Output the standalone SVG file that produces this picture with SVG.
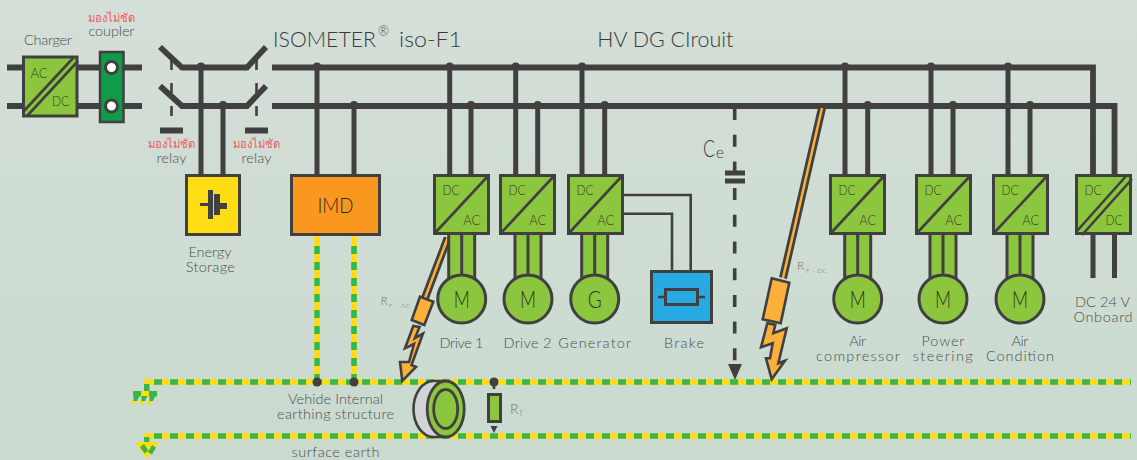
<svg xmlns="http://www.w3.org/2000/svg" width="1137" height="460" viewBox="0 0 1137 460">
<style>
text{font-family:"Lato","Noto Sans","DejaVu Sans",sans-serif;font-weight:300;fill:#4c4d4f;font-size:14.5px;text-anchor:middle}
.th{fill:#ef5a60;font-size:12px;font-family:"Noto Sans","DejaVu Sans",sans-serif;font-weight:400}
.t{fill:#34421a;font-size:14px}
.m{fill:#2c3618;font-size:24px}
.big{fill:#3a3a3c;font-size:22px;text-anchor:start}
.sm{fill:#6d6e71;text-anchor:start}
.bus{fill:none;stroke:#404041;stroke-width:5.8}
.v{fill:none;stroke:#404041;stroke-width:5}
.thin{fill:none;stroke:#404041;stroke-width:2.6}
.box{fill:#8cc63f;stroke:#404041;stroke-width:3}
.dot{fill:#404041}
.eY{fill:none;stroke:#ffdd15;stroke-width:5.5}
.eG{fill:none;stroke:#39b54a;stroke-width:5.5;stroke-dasharray:8 8}
.or{fill:#fbb03b;stroke:#404041;stroke-width:2.6}
</style>
<defs>
<linearGradient id="bg" x1="0" y1="0" x2="0" y2="1"><stop offset="0" stop-color="#d4dfd7"/><stop offset="1" stop-color="#cadacf"/></linearGradient>
<g id="conv">
<rect class="box" x="1.500" y="1.500" width="54" height="58"/>
<path class="thin" d="M2 59 55 2"/>
<text class="t" x="18" y="21" textLength="17" lengthAdjust="spacingAndGlyphs">DC</text>
<text class="t" x="38.700" y="51" textLength="17" lengthAdjust="spacingAndGlyphs">AC</text>
</g>
<g id="link">
<rect x="-13" y="0" width="26" height="46" fill="#8cc63f"/>
<path class="thin" d="M-13 0V46M0 0V46M13 0V46" style="stroke-width:3"/>
</g>
</defs>
<rect width="1137" height="460" fill="url(#bg)"/>

<g id="connectors">
<path class="bus" d="M7 67.500H23M7 106H23M78 67.500H142M78 106H142"/>
<path class="bus" d="M160 47 182 67.500H247L266 47M160 86 182 106H247L266 86"/>
<path class="thin" d="M171.500 60V128M256.500 60V128" stroke-dasharray="10 13"/>
<path class="bus" d="M160 130.500H183M245 130.500H268"/>
<path class="bus" d="M272 67.500H1093V175M272 106H1114.500V175"/>
<path class="v" d="M201 66V175M223 104V175M317 66V175M354 104V175M449.700 66V175M471 104V175M515.700 66V175M537.700 104V175M582 66V175M604.700 104V175M845 66V175M867.700 104V175M931 66V175M953 104V175M1008 66V175M1030 104V175"/>
<g class="dot">
<circle cx="201" cy="66.500" r="4"/><circle cx="223" cy="105" r="4"/><circle cx="317" cy="66.500" r="4"/><circle cx="354" cy="105" r="4"/>
<circle cx="449.700" cy="66.500" r="4"/><circle cx="471" cy="105" r="4"/><circle cx="515.700" cy="66.500" r="4"/><circle cx="537.700" cy="105" r="4"/>
<circle cx="582" cy="66.500" r="4"/><circle cx="604.700" cy="105" r="4"/><circle cx="845" cy="66.500" r="4"/><circle cx="867.700" cy="105" r="4"/>
<circle cx="931" cy="66.500" r="4"/><circle cx="953" cy="105" r="4"/><circle cx="1008" cy="66.500" r="4"/><circle cx="1030" cy="105" r="4"/>
</g>
<path class="v" d="M1093 235V278M1114.500 235V278"/>
<path class="thin" d="M624 195H690.700V270M624 213.700H672V270"/>
<path d="M734.700 108V368" fill="none" stroke="#404041" stroke-width="3.600" stroke-dasharray="12 14.700"/>
<path class="dot" d="M725 170.500h20v5h-20zM725 178.500h20v5h-20zM728 364h14l-7 16z"/>
<path d="M822 108 783 278" fill="none" stroke="#404041" stroke-width="8"/>
<path d="M822 108 783 278" fill="none" stroke="#fbb03b" stroke-width="2.500"/>
<path d="M447.700 238 425 298" fill="none" stroke="#404041" stroke-width="8"/>
<path d="M447.700 238 425 298" fill="none" stroke="#fbb03b" stroke-width="2.500"/>
<path class="eY" d="M147 392V382H1131M147 444V436H1131M317 235V382M354 235V382"/>
<path class="eG" d="M154 382H1131M154 436H1131M317 246V382M354 246V382"/>
<path fill="#39b54a" d="M144 384h5.500v7h-5.500zM144 437h5.500v7h-5.500z"/>
</g>

<g id="ground-1">
<rect x="133" y="391" width="25" height="5.500" fill="#ffdd15"/>
<path fill="#39b54a" d="M133 391h8v5.500h-8zM149 391h8v5.500h-8z"/>
<path fill="#ffdd15" d="M130.500 402l3-3 3 3-3 3zM138.500 402l3-3 3 3-3 3zM146.500 402l3-3 3 3-3 3z"/>
<path fill="#39b54a" d="M134 396h6l-2.500 5h-3.500zM142 396h6l-2.500 5h-3.500zM150 396h6l-2.500 5h-3.500z" transform="translate(-.5 0)"/>
</g>
<g id="ground-2">
<path fill="#ffdd15" d="M135 442h24l-12 17z"/>
<path fill="#39b54a" d="M141 447l4-3 4.500 6.500-4 3zM153 445l4 2.500-4 7-4-2.500z" transform="translate(-1 0)"/>
</g>

<g id="charger">
<rect class="box" x="23.500" y="57" width="53.500" height="59"/>
<path class="thin" d="M23 112 74 57M27 116 78 61"/>
<text class="t" x="39" y="78" textLength="17" lengthAdjust="spacingAndGlyphs">AC</text><text class="t" x="60.500" y="106" textLength="17" lengthAdjust="spacingAndGlyphs">DC</text>
<text x="48" y="45" textLength="48">Charger</text>
</g>
<g id="coupler">
<rect x="100" y="52" width="23.500" height="70" fill="#0f9b47" stroke="#404041" stroke-width="2.500"/>
<circle cx="111.500" cy="67.500" r="6" fill="#fff" stroke="#404041" stroke-width="3"/>
<circle cx="111.500" cy="106" r="6" fill="#fff" stroke="#404041" stroke-width="3"/>
<text class="th" x="111.500" y="21.500" textLength="48" lengthAdjust="spacingAndGlyphs">มองไม่ชัด</text><text x="111.500" y="35.500" textLength="46">coupler</text>
</g>
<g id="relay-1"><text class="th" x="171.500" y="148" textLength="48" lengthAdjust="spacingAndGlyphs">มองไม่ชัด</text><text x="171.500" y="162.500" textLength="30">relay</text></g>
<g id="relay-2"><text class="th" x="256.500" y="148" textLength="48" lengthAdjust="spacingAndGlyphs">มองไม่ชัด</text><text x="256.500" y="162.500" textLength="30">relay</text></g>
<g id="titles">
<text class="big" x="273" y="47" textLength="103" lengthAdjust="spacingAndGlyphs">ISOMETER</text>
<text class="big" x="378" y="36" style="font-size:13px">®</text>
<text class="big" x="399" y="47" textLength="63" lengthAdjust="spacingAndGlyphs">iso-F1</text>
<text class="big" x="597.300" y="47" textLength="136" lengthAdjust="spacingAndGlyphs">HV DG CIrouit</text>
<text class="big" x="703" y="157" style="font-size:23px" textLength="12" lengthAdjust="spacingAndGlyphs">C</text><text class="big" x="716" y="158" style="font-size:15px">e</text>
</g>
<g id="energy-storage">
<rect x="186.500" y="175.500" width="53" height="59" fill="#ffdd15" stroke="#404041" stroke-width="3"/>
<path class="dot" d="M200 203h8v-13h5v29h-5v-13h-8zM214 194h6v9h7v6h-7v6h-6z"/>
<text x="210" y="257" textLength="43">Energy</text><text x="210.300" y="272" textLength="49">Storage</text>
</g>
<g id="imd">
<rect x="291.500" y="175.500" width="88" height="59" fill="#f9971f" stroke="#404041" stroke-width="3"/>
<text x="335.500" y="213" style="font-size:22px;fill:#2b2b2b" textLength="36" lengthAdjust="spacingAndGlyphs">IMD</text>
</g>

<g id="drive-1"><use href="#link" x="461.700" y="235"/><use href="#conv" x="433" y="174"/><circle class="box" cx="461.700" cy="299" r="24"/><text class="m" x="461.700" y="308" textLength="16" lengthAdjust="spacingAndGlyphs">M</text><text x="461.500" y="348" textLength="44">Drive 1</text></g>
<g id="drive-2"><use href="#link" x="528" y="235"/><use href="#conv" x="499" y="174"/><circle class="box" cx="528" cy="299" r="24"/><text class="m" x="528" y="308" textLength="16" lengthAdjust="spacingAndGlyphs">M</text><text x="527.500" y="348" textLength="48">Drive 2</text></g>
<g id="generator"><use href="#link" x="594.700" y="235"/><use href="#conv" x="567" y="174"/><circle class="box" cx="594.700" cy="299" r="24"/><text class="m" x="594.700" y="308" textLength="14" lengthAdjust="spacingAndGlyphs">G</text><text x="594.700" y="348" textLength="73">Generator</text></g>
<g id="brake">
<rect x="651.500" y="271.500" width="60" height="51" fill="#27a9e1" stroke="#404041" stroke-width="3"/>
<path class="thin" d="M658 297H665M698 297H705"/>
<rect x="665.500" y="289.500" width="32" height="15" fill="#27a9e1" stroke="#404041" stroke-width="3"/>
<text x="684" y="348" textLength="40">Brake</text>
</g>
<g id="air-compressor"><use href="#link" x="857.700" y="235"/><use href="#conv" x="829" y="174"/><circle class="box" cx="857.700" cy="299" r="24"/><text class="m" x="857.700" y="308" textLength="16" lengthAdjust="spacingAndGlyphs">M</text><text x="857.700" y="346" textLength="17">Air</text><text x="858" y="360.500" textLength="84">compressor</text></g>
<g id="power-steering"><use href="#link" x="943" y="235"/><use href="#conv" x="915" y="174"/><circle class="box" cx="943" cy="299" r="24"/><text class="m" x="943" y="308" textLength="16" lengthAdjust="spacingAndGlyphs">M</text><text x="943" y="346" textLength="43">Power</text><text x="942.700" y="360.500" textLength="60">steering</text></g>
<g id="air-condition"><use href="#link" x="1020" y="235"/><use href="#conv" x="992" y="174"/><circle class="box" cx="1020" cy="299" r="24"/><text class="m" x="1020" y="308" textLength="16" lengthAdjust="spacingAndGlyphs">M</text><text x="1020" y="346" textLength="17">Air</text><text x="1020" y="360.500" textLength="68">Condition</text></g>
<g id="dc-dc">
<rect class="box" x="1076.500" y="175.500" width="54" height="58"/>
<path class="thin" d="M1077 231 1127 175M1082 235 1132 179"/>
<text class="t" x="1093" y="195" textLength="17" lengthAdjust="spacingAndGlyphs">DC</text><text class="t" x="1114" y="225" textLength="17" lengthAdjust="spacingAndGlyphs">DC</text>
<text x="1102.500" y="307" textLength="55">DC 24 V</text><text x="1103" y="322" textLength="59">Onboard</text>
</g>

<g id="fault-ac">
<path class="or" d="M413.300 326 405 348.300 414 344 409 362 400 362 402.300 381 416 367 411.500 365 423 333.500 415 338 419.500 327z"/>
<path class="or" d="M420 296.700 433.300 301.700 424.300 325 411.700 320z"/>
<text class="sm" x="380.500" y="305" style="font-size:12px">R</text><text class="sm" x="389" y="308" style="font-size:6.500px" textLength="21">F - AC</text>
</g>
<g id="fault-dc">
<path class="or" d="M767.300 323.300 761 347.300 772.700 343.300 770 358.300 766 358.300 771.700 379.300 785 360.700 778.300 363.300 786.700 328.300 773.300 333.300 775.300 324.700z"/>
<path class="or" d="M771.700 278.300 789.300 282.700 780.700 323.300 762.700 319.300z"/>
<text class="sm" x="797" y="270" style="font-size:12px">R</text><text class="sm" x="806" y="273" style="font-size:6.500px" textLength="21">F - DC</text>
</g>
<g id="tyre">
<ellipse cx="433.500" cy="409" rx="20" ry="28" fill="#d1d3d4" stroke="#404041" stroke-width="2.600"/>
<path d="M433 381H446V437H433z" fill="#d1d3d4"/>
<path class="thin" d="M433 381H446M433 437H446"/>
<ellipse class="box" cx="445.700" cy="409" rx="18.500" ry="28" style="stroke-width:2.800"/>
<ellipse class="box" cx="445.700" cy="409" rx="12" ry="19.500" style="stroke-width:2.800"/>
</g>
<g id="rt">
<circle class="dot" cx="494" cy="382" r="4.500"/>
<path class="thin" d="M494 382V389"/>
<rect class="box" x="488.500" y="394.500" width="12" height="27"/>
<path class="dot" d="M490.500 426h7l-3.500 7z"/>
<text class="sm" x="510" y="414" style="font-size:14px">R</text><text class="sm" x="519" y="416" style="font-size:7px">T</text>
</g>
<g id="earth-labels">
<text x="335.500" y="404" textLength="95">Vehide Internal</text><text x="335.500" y="418.500" textLength="117">earthing structure</text><text x="335.500" y="456.500" textLength="88">surface earth</text>
</g>
<g id="dots"><circle class="dot" cx="317" cy="382" r="4.500"/><circle class="dot" cx="354" cy="382" r="4.500"/></g>
</svg>
